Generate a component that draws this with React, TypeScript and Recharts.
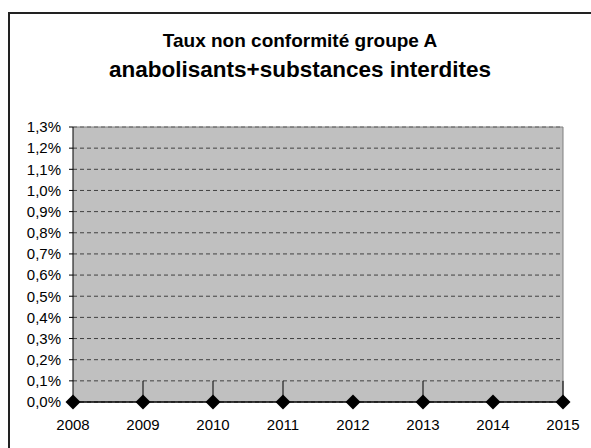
import React from 'react';
import { LineChart, Line, XAxis, YAxis, CartesianGrid, ErrorBar, ReferenceLine } from 'recharts';

const years = ['2008', '2009', '2010', '2011', '2012', '2013', '2014', '2015'];
const rates = [0, 0, 0, 0, 0, 0, 0, 0];
const errHigh = [0, 0.001, 0.001, 0.001, 0, 0.001, 0, 0.001];
const yTicks = [0, 0.001, 0.002, 0.003, 0.004, 0.005, 0.006, 0.007, 0.008, 0.009, 0.01, 0.011, 0.012, 0.013];
const title1 = 'Taux non conformité groupe A';
const title2 = 'anabolisants+substances interdites';

const data = years.map((y, i) => ({ year: y, rate: rates[i], err: [0, errHigh[i]] }));

const FONT = '"Liberation Sans", Arial, sans-serif';

const fmt = (v: number) => (v * 100).toFixed(1).replace('.', ',') + '%';

const Diamond = (props: any) => {
  const { cx, cy, index } = props;
  if (cx == null || cy == null) return <g key={index} />;
  const r = 7.5;
  return (
    <path
      key={index}
      d={`M${cx},${cy - r} L${cx + r},${cy} L${cx},${cy + r} L${cx - r},${cy} Z`}
      fill="#000"
      stroke="none"
    />
  );
};

export default function App() {
  return (
    <div style={{ position: 'absolute', left: 0, top: 0, width: 591, height: 448, overflow: 'hidden', background: '#fff' }}>
      <svg width={591} height={448} style={{ position: 'absolute', left: 0, top: 0 }}>
        <line x1={9} y1={12} x2={9} y2={448} stroke="#222" strokeWidth={2} />
        <line x1={8} y1={13} x2={591} y2={13} stroke="#222" strokeWidth={2} />
        <text x={300} y={46.5} textAnchor="middle" fontFamily={FONT} fontWeight="bold" fontSize={19} fill="#000">
          {title1}
        </text>
        <text x={300} y={76.5} textAnchor="middle" fontFamily={FONT} fontWeight="bold" fontSize={22.5} fill="#000">
          {title2}
        </text>
      </svg>
      <div style={{ position: 'absolute', left: 0, top: 0 }}>
        <LineChart width={591} height={448} data={data} margin={{ top: 127, right: 28, bottom: 16, left: 8 }}>
          <CartesianGrid
            vertical={false}
            horizontal={true}
            fill="#C0C0C0"
            stroke="#404040"
            strokeDasharray="4 3"
            fillOpacity={1}
          />
          <XAxis
            dataKey="year"
            type="category"
            height={30}
            axisLine={{ stroke: '#000', strokeWidth: 1 }}
            tickLine={false}
            tickSize={0}
            tickMargin={17}
            interval={0}
            tick={{ fontFamily: FONT, fontSize: 15, fill: '#000' }}
          />
          <YAxis
            type="number"
            domain={[0, 0.013]}
            ticks={yTicks}
            interval={0}
            width={65}
            tickFormatter={fmt}
            axisLine={{ stroke: '#000', strokeWidth: 1 }}
            tickLine={{ stroke: '#000', strokeWidth: 1 }}
            tickSize={4}
            tickMargin={8}
            tick={{ fontFamily: FONT, fontSize: 15, fill: '#000' }}
          />
          <ReferenceLine y={0.013} stroke="#808080" strokeWidth={1} ifOverflow="extendDomain" />
          <ReferenceLine x="2015" stroke="#808080" strokeWidth={1} />
          <Line
            dataKey="rate"
            stroke="#000"
            strokeWidth={1}
            dot={Diamond}
            activeDot={false}
            isAnimationActive={false}
          >
            <ErrorBar dataKey="err" direction="y" width={0} stroke="#000" strokeWidth={1} />
          </Line>
        </LineChart>
      </div>
    </div>
  );
}
